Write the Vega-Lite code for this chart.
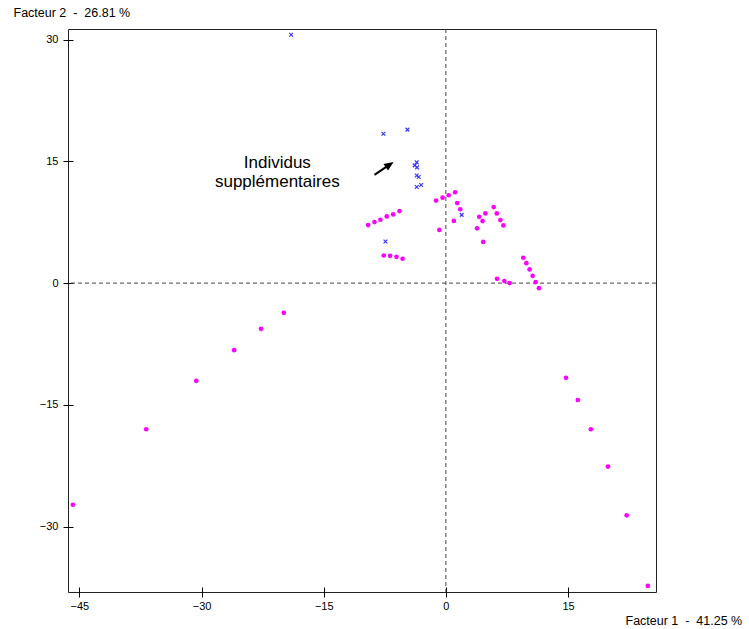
{
  "$schema": "https://vega.github.io/schema/vega-lite/v6.json",
  "width": 588,
  "height": 563,
  "autosize": {"type": "none"},
  "padding": {"left": 68, "top": 29, "right": 93, "bottom": 37},
  "background": "white",
  "config": {
    "view": {"stroke": "#222222", "strokeWidth": 1},
    "font": "Liberation Sans"
  },
  "datasets": {
    "actifs": [
      {"f1": -45.8, "f2": -27.3}, {"f1": -36.8, "f2": -18.0}, {"f1": -30.65, "f2": -12.04},
      {"f1": -26.0, "f2": -8.26}, {"f1": -22.7, "f2": -5.63}, {"f1": -19.9, "f2": -3.66},
      {"f1": 14.75, "f2": -11.67}, {"f1": 16.2, "f2": -14.4}, {"f1": 17.8, "f2": -18.0},
      {"f1": 19.9, "f2": -22.6}, {"f1": 22.2, "f2": -28.6}, {"f1": 24.8, "f2": -37.3},
      {"f1": -9.55, "f2": 7.15}, {"f1": -8.77, "f2": 7.52}, {"f1": -8.04, "f2": 7.8},
      {"f1": -7.26, "f2": 8.21}, {"f1": -6.48, "f2": 8.46}, {"f1": -5.7, "f2": 8.87},
      {"f1": -7.63, "f2": 3.4}, {"f1": -6.85, "f2": 3.36}, {"f1": -6.07, "f2": 3.24},
      {"f1": -5.32, "f2": 3.0}, {"f1": -1.2, "f2": 10.16}, {"f1": -0.41, "f2": 10.52},
      {"f1": 0.35, "f2": 10.82}, {"f1": 1.13, "f2": 11.19}, {"f1": 1.39, "f2": 9.86},
      {"f1": 1.76, "f2": 9.1}, {"f1": 0.98, "f2": 7.66}, {"f1": -0.8, "f2": 6.55},
      {"f1": 4.09, "f2": 8.17}, {"f1": 3.83, "f2": 6.75}, {"f1": 4.5, "f2": 7.64},
      {"f1": 4.85, "f2": 8.58}, {"f1": 4.58, "f2": 5.07}, {"f1": 5.87, "f2": 9.37},
      {"f1": 6.25, "f2": 8.58}, {"f1": 6.69, "f2": 7.76}, {"f1": 7.06, "f2": 7.1},
      {"f1": 6.28, "f2": 0.53}, {"f1": 7.18, "f2": 0.25}, {"f1": 7.83, "f2": 0.0},
      {"f1": 9.5, "f2": 3.12}, {"f1": 9.88, "f2": 2.46}, {"f1": 10.28, "f2": 1.68},
      {"f1": 10.65, "f2": 0.9}, {"f1": 11.02, "f2": 0.12}, {"f1": 11.43, "f2": -0.62}
    ],
    "supplementaires": [
      {"f1": -19.0, "f2": 30.6}, {"f1": -7.67, "f2": 18.4}, {"f1": -4.72, "f2": 18.9},
      {"f1": -3.58, "f2": 14.87}, {"f1": -3.83, "f2": 14.5}, {"f1": -3.54, "f2": 14.25},
      {"f1": -3.58, "f2": 13.26}, {"f1": -3.34, "f2": 13.07}, {"f1": -3.58, "f2": 11.83},
      {"f1": -3.04, "f2": 12.08}, {"f1": -7.42, "f2": 5.13}, {"f1": 1.94, "f2": 8.4}
    ],
    "etiquette": [
      {"f1": -20.7, "f2": 14.83, "texte": "Individus"},
      {"f1": -20.7, "f2": 12.49, "texte": "supplémentaires"}
    ],
    "fleche": [
      {"x1": -8.77, "y1": 13.34, "x2": -7.0, "y2": 14.53}
    ],
    "pointe": [
      {"f1": -6.9, "f2": 14.6}
    ],
    "zero": [{"v": 0}]
  },
  "layer": [
    {
      "data": {"name": "zero"},
      "mark": {"type": "rule", "color": "#444444", "strokeDash": [4, 3], "strokeWidth": 1},
      "encoding": {
        "x": {
          "field": "v", "type": "quantitative",
          "scale": {"domain": [-46.4, 25.8], "nice": false, "zero": false},
          "axis": {
            "values": [-45, -30, -15, 0, 15],
            "domain": false, "grid": false, "offset": -5, "tickSize": 10,
            "tickColor": "#000000", "labelColor": "#000000", "labelFontSize": 11,
            "labelFont": "Liberation Sans", "labelPadding": 3,
            "title": "Facteur 1\u00a0\u00a0-\u00a0\u00a041.25 %", "titleFont": "Liberation Sans",
            "titleFontSize": 12.5, "titleFontWeight": "normal", "titleColor": "#000000",
            "titleX": 557, "titleY": 33, "titleAlign": "left", "titleBaseline": "middle"
          }
        }
      }
    },
    {
      "data": {"name": "zero"},
      "mark": {"type": "rule", "color": "#444444", "strokeDash": [4, 3], "strokeWidth": 1},
      "encoding": {
        "y": {
          "field": "v", "type": "quantitative",
          "scale": {"domain": [-38.05, 31.3], "nice": false, "zero": false},
          "axis": {
            "values": [-30, -15, 0, 15, 30],
            "domain": false, "grid": false, "offset": -5, "tickSize": 10,
            "tickColor": "#000000", "labelColor": "#000000", "labelFontSize": 11,
            "labelFont": "Liberation Sans", "labelPadding": 5,
            "title": "Facteur 2\u00a0\u00a0-\u00a0\u00a026.81 %", "titleFont": "Liberation Sans",
            "titleFontSize": 12.5, "titleFontWeight": "normal", "titleColor": "#000000",
            "titleAngle": 0, "titleX": -60, "titleY": -17, "titleAlign": "left", "titleBaseline": "middle"
          }
        }
      }
    },
    {
      "data": {"name": "actifs"},
      "mark": {"type": "circle", "color": "#ff00ff", "size": 22, "opacity": 1},
      "encoding": {
        "x": {"field": "f1", "type": "quantitative"},
        "y": {"field": "f2", "type": "quantitative"}
      }
    },
    {
      "data": {"name": "supplementaires"},
      "mark": {"type": "point", "shape": "M-1,-1L1,1M-1,1L1,-1", "filled": false, "stroke": "#3a3aff", "strokeWidth": 1.2, "size": 14, "opacity": 1},
      "encoding": {
        "x": {"field": "f1", "type": "quantitative"},
        "y": {"field": "f2", "type": "quantitative"}
      }
    },
    {
      "data": {"name": "etiquette"},
      "mark": {"type": "text", "font": "Liberation Sans", "fontSize": 17, "align": "center", "baseline": "middle", "color": "#000000"},
      "encoding": {
        "x": {"field": "f1", "type": "quantitative"},
        "y": {"field": "f2", "type": "quantitative"},
        "text": {"field": "texte"}
      }
    },
    {
      "data": {"name": "fleche"},
      "mark": {"type": "rule", "color": "#000000", "strokeWidth": 2},
      "encoding": {
        "x": {"field": "x1", "type": "quantitative"},
        "y": {"field": "y1", "type": "quantitative"},
        "x2": {"field": "x2"},
        "y2": {"field": "y2"}
      }
    },
    {
      "data": {"name": "pointe"},
      "mark": {"type": "point", "shape": "M0,-1L0.85,1L-0.85,1Z", "filled": true, "color": "#000000", "size": 90, "angle": 56, "opacity": 1},
      "encoding": {
        "x": {"field": "f1", "type": "quantitative"},
        "y": {"field": "f2", "type": "quantitative"}
      }
    }
  ]
}
